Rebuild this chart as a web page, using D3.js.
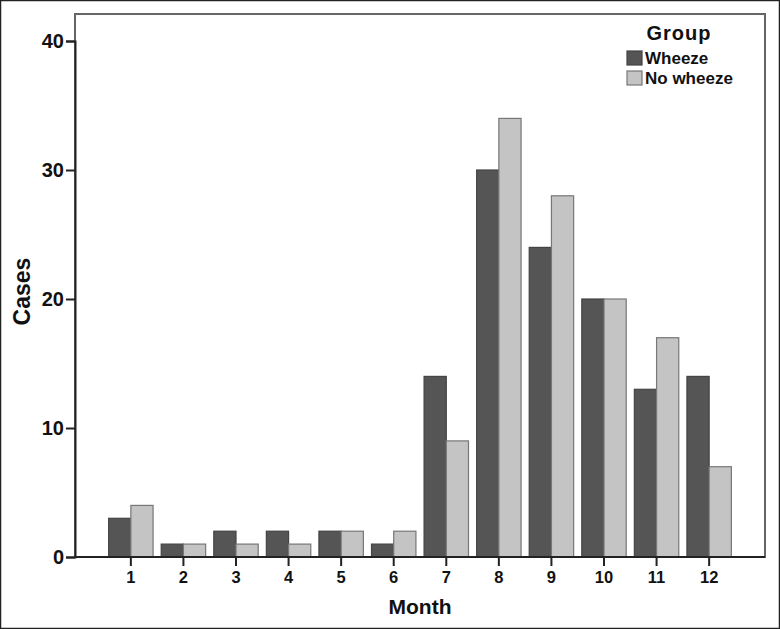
<!DOCTYPE html>
<html><head><meta charset="utf-8">
<script src="https://cdn.jsdelivr.net/npm/d3@7"></script>
<style>body{margin:0;background:#fff;} svg{display:block;font-family:"Liberation Sans",Arial,sans-serif;}</style>
</head><body>
<svg id="c" width="780" height="629"></svg>
<script>
const months = ["1","2","3","4","5","6","7","8","9","10","11","12"];
const groups = ["Wheeze","No wheeze"];
const wheeze = [3,1,2,2,2,1,14,30,24,20,13,14];
const noWheeze = [4,1,1,1,2,2,9,34,28,20,17,7];
const yTicks = [0,10,20,30,40];
const colors = ["#555555","#c4c4c4"];
const strokes = ["#444444","#777777"];

const svg = d3.select("#c");
const L = 75, R = 765, T = 14, B = 557;
svg.append("rect").attr("x",0.5).attr("y",0.5).attr("width",779).attr("height",628)
  .attr("fill","#fff").attr("stroke","#222").attr("stroke-width",1.5);

const x = d3.scaleBand().domain(months).range([L,R]).paddingInner(0.155).paddingOuter(0.64);
const xs = d3.scaleBand().domain(groups).range([0,x.bandwidth()]);
const y = d3.scaleLinear().domain([0,40]).range([B,41]);

// frame
svg.append("rect").attr("x",L).attr("y",T).attr("width",R-L).attr("height",B-T)
  .attr("fill","none").attr("stroke","#666").attr("stroke-width",2);

const data = months.map((m,i)=>({m, vals:[wheeze[i], noWheeze[i]]}));
const g = svg.append("g");
data.forEach(d=>{
  d.vals.forEach((v,j)=>{
    g.append("rect")
      .attr("x", x(d.m)+xs(groups[j]))
      .attr("y", y(v))
      .attr("width", xs.bandwidth())
      .attr("height", y(0)-y(v))
      .attr("fill", colors[j]).attr("stroke", strokes[j]).attr("stroke-width",1.2);
  });
});

// axes
const yAxis = svg.append("g").attr("transform",`translate(${L},0)`)
  .call(d3.axisLeft(y).tickValues(yTicks).tickSize(9).tickPadding(2));
yAxis.select(".domain").attr("stroke","#222").attr("stroke-width",2);
yAxis.selectAll(".tick line").attr("stroke","#222").attr("stroke-width",2);
yAxis.selectAll("text").attr("font-size",20).attr("font-weight","bold").attr("fill","#111");

const xAxis = svg.append("g").attr("transform",`translate(0,${B})`)
  .call(d3.axisBottom(x).tickSize(9).tickPadding(5));
xAxis.select(".domain").attr("stroke","#222").attr("stroke-width",2).attr("d",`M${L},0H${R}`);
xAxis.selectAll(".tick line").attr("stroke","#222").attr("stroke-width",2);
xAxis.selectAll("text").attr("font-size",16.5).attr("font-weight","bold").attr("fill","#111");

svg.append("text").attr("transform",`translate(30,${(T+B)/2+6}) rotate(-90)`)
  .attr("text-anchor","middle").attr("font-size",23).attr("font-weight","bold").attr("fill","#111").text("Cases");
svg.append("text").attr("x",(L+R)/2).attr("y",614)
  .attr("text-anchor","middle").attr("font-size",21).attr("font-weight","bold").attr("fill","#111").text("Month");

// legend
const lg = svg.append("g");
lg.append("text").attr("x",679).attr("y",40).attr("text-anchor","middle")
  .attr("font-size",20).attr("letter-spacing",1).attr("font-weight","bold").attr("fill","#111").text("Group");
groups.forEach((gname,j)=>{
  lg.append("rect").attr("x",627).attr("y",51+j*20).attr("width",15).attr("height",14)
    .attr("fill",colors[j]).attr("stroke",strokes[j]).attr("stroke-width",1.2);
  lg.append("text").attr("x",645).attr("y",64+j*20).attr("font-size",17).attr("font-weight","bold")
    .attr("fill","#111").text(gname);
});
</script>
</body></html>
